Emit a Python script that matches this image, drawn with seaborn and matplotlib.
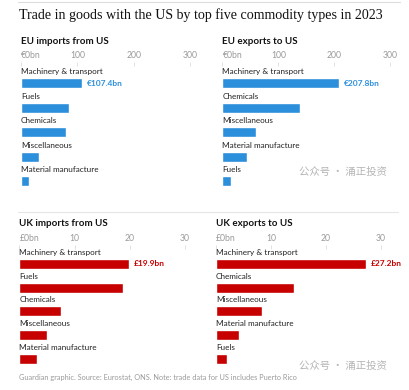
import matplotlib
matplotlib.use("Agg")
import matplotlib.pyplot as plt
import seaborn as sns
from matplotlib.lines import Line2D

# ---- data ----
eu_imp_cats = ["Machinery & transport", "Fuels", "Chemicals", "Miscellaneous", "Material manufacture"]
eu_imp_vals = [107.4, 85, 79, 32, 15]
eu_exp_cats = ["Machinery & transport", "Chemicals", "Miscellaneous", "Material manufacture", "Fuels"]
eu_exp_vals = [207.8, 139, 60, 44, 15]
uk_imp_cats = ["Machinery & transport", "Fuels", "Chemicals", "Miscellaneous", "Material manufacture"]
uk_imp_vals = [19.9, 18.7, 7.6, 5.0, 3.1]
uk_exp_cats = ["Machinery & transport", "Chemicals", "Miscellaneous", "Material manufacture", "Fuels"]
uk_exp_vals = [27.2, 14.2, 8.4, 4.2, 2.0]
eu_ticks = [0, 100, 200, 300]
eu_ticklabels = ["€0bn", "100", "200", "300"]
uk_ticks = [0, 10, 20, 30]
uk_ticklabels = ["£0bn", "10", "20", "30"]
eu_labels = ["€107.4bn", "€207.8bn"]
uk_labels = ["£19.9bn", "£27.2bn"]

BLUE = "#2b8fdc"
RED = "#c70000"
SANS = ["Lato", "DejaVu Sans"]
W, H = 410, 390

sns.set_theme(style="white")
plt.rcParams["font.family"] = SANS

fig = plt.figure(figsize=(W / 100, H / 100), dpi=100)


def add_panel(left, right, top, first_row, spacing, bar_h, cats, vals, ticks, ticklabels,
              xmax, color, label, title):
    bottom = first_row + spacing * 4 + 9
    ax = fig.add_axes([left / W, 1 - bottom / H, (right - left) / W, (bottom - top) / H])
    sns.barplot(x=vals, y=cats, ax=ax, color=color, saturation=1, width=bar_h / spacing,
                orient="h")
    ax.set_xlim(0, xmax)
    ax.set_ylim(4 + (bottom - (first_row + 4 * spacing)) / spacing, -(first_row - top) / spacing)
    for s in ax.spines.values():
        s.set_visible(False)
    ax.set_yticks([])
    ax.set_ylabel("")
    ax.set_xlabel("")
    ax.xaxis.tick_top()
    ax.set_xticks(ticks)
    ax.set_xticklabels(ticklabels)
    ax.tick_params(axis="x", direction="in", length=3, width=0.6, color="#dcdcdc",
                   labelsize=6.2, labelcolor="#9a9a9a", pad=1.5)
    ax.get_xticklabels()[0].set_horizontalalignment("left")
    for i, c in enumerate(cats):
        ax.text(0, i - 11.5 / spacing, c, fontsize=5.9, color="#222222", va="center", ha="left")
    px = xmax / (right - left)
    ax.text(vals[0] + 5 * px, 0, label, fontsize=6.0, color=color, fontweight="bold",
            va="center", ha="left", clip_on=False)
    fig.text(left / W, 1 - (top - 21) / H, title, fontsize=7.0, fontweight="bold",
             color="#121212", va="center", ha="left")
    return ax


add_panel(21, 190, 62, 83, 24.5, 10, eu_imp_cats, eu_imp_vals, eu_ticks, eu_ticklabels,
          300, BLUE, eu_labels[0], "EU imports from US")
add_panel(222.5, 390, 62, 83, 24.5, 10, eu_exp_cats, eu_exp_vals, eu_ticks, eu_ticklabels,
          300, BLUE, eu_labels[1], "EU exports to US")
add_panel(19.5, 185, 245, 264, 23.7, 10, uk_imp_cats, uk_imp_vals, uk_ticks, uk_ticklabels,
          30, RED, uk_labels[0], "UK imports from US")
add_panel(216, 381, 245, 264, 23.7, 10, uk_exp_cats, uk_exp_vals, uk_ticks, uk_ticklabels,
          30, RED, uk_labels[1], "UK exports to US")

# title and rules
fig.add_artist(Line2D([18 / W, 400 / W], [1 - 1.5 / H, 1 - 1.5 / H], color="#dcdcdc", lw=0.8))
fig.text(19 / W, 1 - 15 / H, "Trade in goods with the US by top five commodity types in 2023",
         fontsize=10.1, family=["Liberation Serif", "DejaVu Serif"], color="#121212",
         va="center", ha="left")
fig.add_artist(Line2D([18 / W, 398 / W], [1 - 212 / H, 1 - 212 / H], color="#e6e6e6", lw=0.8))
fig.text(19 / W, 1 - 377 / H,
         "Guardian graphic. Source: Eurostat, ONS. Note: trade data for US includes Puerto Rico",
         fontsize=5.3, color="#9a9a9a", va="center", ha="left")

# watermark
for y in (172, 366):
    fig.text(387 / W, 1 - y / H, "公众号 · 涌正投资", fontsize=7.5, color="#b5b5b5",
             family=["Noto Sans CJK SC", "DejaVu Sans"], va="center", ha="right")

fig.savefig("out.png", dpi=100, facecolor="white")
